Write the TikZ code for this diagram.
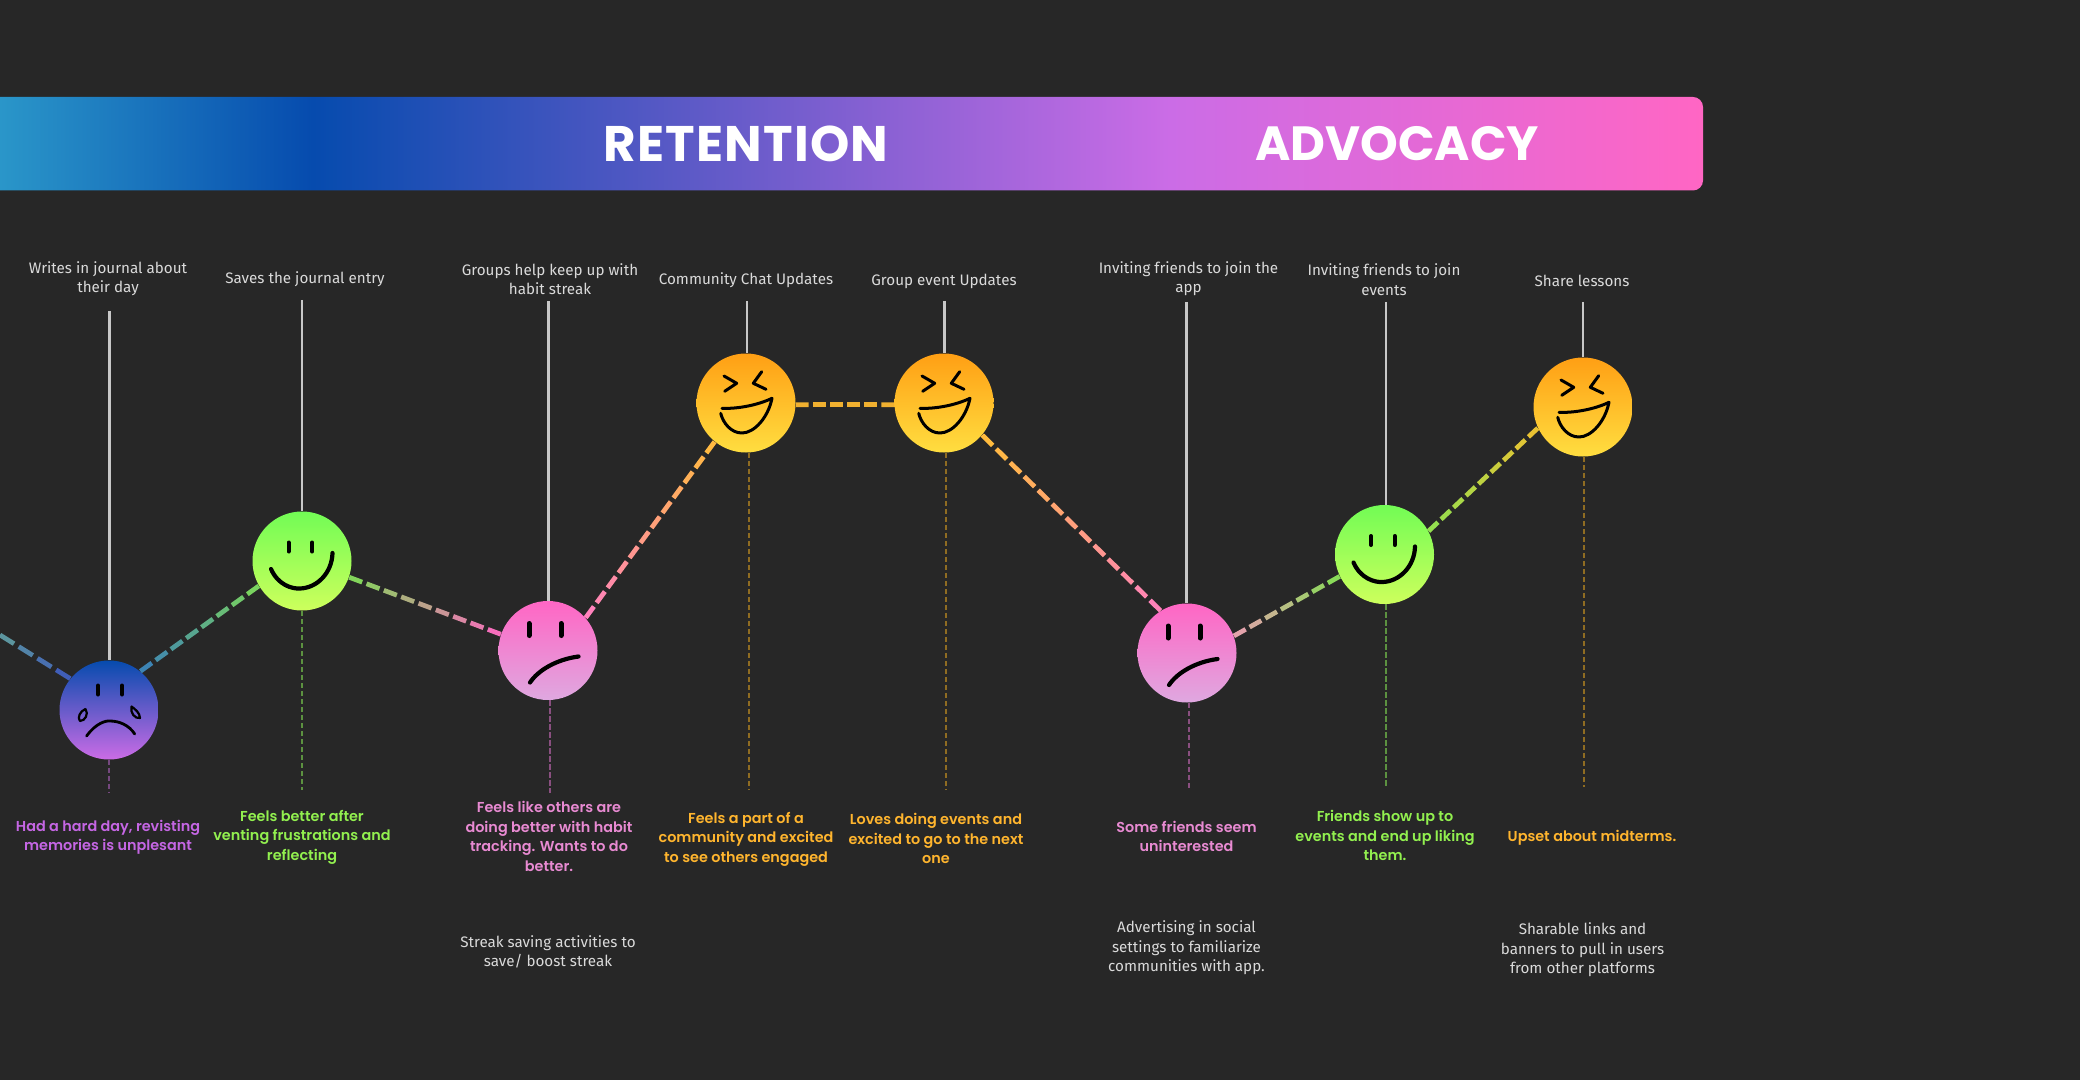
\documentclass[tikz,border=0pt]{standalone}
\usepackage{fontspec}
\usetikzlibrary{calc}
\newfontfamily\bannerfont{Poppins}
\newfontfamily\semifont{Poppins SemiBold}
\newfontfamily\bodyfont{Fira Sans}
\definecolor{bg}{HTML}{272727}
\definecolor{cPurple}{HTML}{C566E4}
\definecolor{cGreen}{HTML}{92F04F}
\definecolor{cPink}{HTML}{E88AD2}
\definecolor{cOrange}{HTML}{FFB52E}
\definecolor{cGrey}{HTML}{DADADA}
\definecolor{lineGrey}{HTML}{C8C8C8}
\definecolor{dPurple}{HTML}{75487F}
\definecolor{dGreen}{HTML}{5C9240}
\definecolor{dPink}{HTML}{8A4F80}
\definecolor{dOrange}{HTML}{8F6C22}
\definecolor{g1}{HTML}{2A96C9}
\definecolor{g2}{HTML}{064BAE}
\definecolor{g3}{HTML}{CB6CE6}
\definecolor{g4}{HTML}{FF66C4}
\pgfdeclarehorizontalshading{bannergrad}{100bp}{color(0bp)=(g1); color(25bp)=(g1); color(34.19bp)=(g2); color(59.35bp)=(g3); color(75bp)=(g4); color(100bp)=(g4)}
\tikzset{
  facebase/.style={circle,draw=none,minimum size=99*0.5pt,inner sep=0pt},
  sadface/.style={facebase,top color=g2,bottom color=g3},
  smileface/.style={facebase,top color=HappyTop,bottom color=HappyBot},
  mehface/.style={facebase,top color=g4,bottom color=MehBot},
  laughface/.style={facebase,top color=LaughTop,bottom color=LaughBot},
  toplabel/.style={text=cGrey,align=center,font=\bodyfont\fontsize{7.6}{9.7}\selectfont},
  feeling/.style={align=center,font=\semifont\fontsize{7.2}{9.7}\selectfont},
  idea/.style={text=cGrey,align=center,font=\bodyfont\fontsize{7.6}{9.7}\selectfont},
  banner/.style={text=white,font=\bannerfont\bfseries\fontsize{25}{27}\selectfont},
  stem/.style={draw=lineGrey,line width=1.1pt},
  drop/.style={line width=1pt,dash pattern=on 2.6pt off 1.4pt},
  feat/.style={draw=black,line cap=round,line join=round,fill=none},
}
\definecolor{HappyTop}{HTML}{72FC55}
\definecolor{HappyBot}{HTML}{CDFF5C}
\definecolor{MehBot}{HTML}{DFA8E0}
\definecolor{LaughTop}{HTML}{FF9F14}
\definecolor{LaughBot}{HTML}{FFDE40}
% gradient dashed connector: from, to, colour, colour, number of dashes
\newcommand{\gradconn}[5]{%
  \pgfmathtruncatemacro{\lastdash}{#5-1}%
  \foreach \i in {0,...,\lastdash}{%
    \pgfmathsetmacro{\ta}{\i/(#5-0.25)}%
    \pgfmathsetmacro{\tb}{(\i+0.75)/(#5-0.25)}%
    \pgfmathtruncatemacro{\mixp}{100*(\i+0.4)/#5}%
    \draw[line width=2.35pt,color=#4!\mixp!#3] ($(#1)!\ta!(#2)$) -- ($(#1)!\tb!(#2)$);
  }%
}
\newcommand{\eyes}[5]{% x left, x right, y, half height, line width
  \draw[feat,line width=#5] (#1,#3-#4) -- (#1,#3+#4);
  \draw[feat,line width=#5] (#2,#3-#4) -- (#2,#3+#4);
}
\newcommand{\smiledraw}[1]{\begin{scope}[shift={(#1)}]
  \eyes{-13.5}{10.2}{-14}{4.5}{2pt}
  \draw[feat,line width=2.1pt] (-31,8) .. controls (-24,24) and (-10,28) .. (-2,27.5) .. controls (15,27) and (30,12) .. (30.5,-8);
\end{scope}}
\newcommand{\meh}[1]{\begin{scope}[shift={(#1)}]
  \eyes{-19}{13}{-21}{6}{2.5pt}
  \draw[feat,line width=2.1pt] (-18,32) .. controls (-10,20) and (8,9) .. (30.5,6);
\end{scope}}
\newcommand{\cry}[1]{\begin{scope}[shift={(#1)}]
  \eyes{-11}{13}{-20}{4.5}{2pt}
  \draw[feat,line width=1.4pt] (-22.4,26) .. controls (-13,13) and (-3,10.5) .. (1,11) .. controls (10,11) and (20,15) .. (25.7,24);
  \draw[feat,line width=1.1pt] (-23.5,-1) .. controls (-20,4) and (-24,11) .. (-29,11) .. controls (-32,8) and (-29,1) .. (-23.5,-1);
  \draw[feat,line width=1.1pt] (22.5,-3.5) .. controls (26,-1) and (31,3) .. (31,8) .. controls (26,9) and (21,3) .. (22.5,-3.5);
\end{scope}}
\newcommand{\laugh}[1]{\begin{scope}[shift={(#1)}]
  \draw[feat,line width=1.5pt] (-22,-27) -- (-9.3,-19.7) -- (-21.3,-11.7);
  \draw[feat,line width=1.5pt] (15.7,-31.3) -- (7.3,-19.7) -- (20,-13.7);
  \draw[feat,line width=1.5pt] (-24,5.3) .. controls (-8,6) and (12,2) .. (26,-4.7) .. controls (22,15) and (8,30) .. (-4,30) .. controls (-15,30) and (-23,20) .. (-25.3,10.3);
\end{scope}}
\begin{document}
\begin{tikzpicture}[x=0.5pt,y=-0.5pt]
\useasboundingbox (0,0) rectangle (2080,1080);
\fill[bg] (0,0) rectangle (2080,1080);
% banner
\shade[shading=bannergrad] (0,97) {[rounded corners=5pt] -- (1703,97) -- (1703,190.5)} -- (0,190.5) -- cycle;
\node[banner] (ret) at (746,143.5) {\addfontfeatures{LetterSpace=2.5}RETENTION};
\node[banner] (adv) at (1397,143.5) {\fontsize{24}{27}\selectfont ADVOCACY};
% faces
\node[sadface]   (f1) at (109,710) {};
\node[smileface] (f2) at (302,561) {};
\node[mehface]   (f3) at (548,650.5) {};
\node[laughface] (f4) at (746,403) {};
\node[laughface] (f5) at (944,403) {};
\node[mehface]   (f6) at (1187,653) {};
\node[smileface] (f7) at (1384.5,554.5) {};
\node[laughface] (f8) at (1583,407) {};
% free ends
\coordinate (off) at (0,635);
\coordinate (t1) at (109.5,311); \coordinate (b1) at (109,793);
\coordinate (t2) at (302,300);   \coordinate (b2) at (302,790);
\coordinate (t3) at (548.5,301); \coordinate (b3) at (550,793);
\coordinate (t4) at (747,301);   \coordinate (b4) at (749,790);
\coordinate (t5) at (944.5,301); \coordinate (b5) at (946,790);
\coordinate (t6) at (1186.5,302);\coordinate (b6) at (1188.5,788);
\coordinate (t7) at (1386,302);  \coordinate (b7) at (1385.5,787);
\coordinate (t8) at (1583,302);  \coordinate (b8) at (1583.5,787);
% stems
\foreach \k in {1,...,8}{\draw[stem] (t\k) -- (t\k |- f\k.north);}
\draw[drop,draw=dPurple] (b1 |- f1.south) -- (b1);
\draw[drop,draw=dGreen]  (b2 |- f2.south) -- (b2);
\draw[drop,draw=dPink]   (b3 |- f3.south) -- (b3);
\draw[drop,draw=dOrange] (b4 |- f4.south) -- (b4);
\draw[drop,draw=dOrange] (b5 |- f5.south) -- (b5);
\draw[drop,draw=dPink]   (b6 |- f6.south) -- (b6);
\draw[drop,draw=dGreen]  (b7 |- f7.south) -- (b7);
\draw[drop,draw=dOrange] (b8 |- f8.south) -- (b8);
% gradient connectors
\definecolor{a0}{HTML}{5F9C9C}\definecolor{a1}{HTML}{3A52BE}
\definecolor{b0}{HTML}{3A80B8}\definecolor{b1c}{HTML}{7ED957}
\definecolor{c0}{HTML}{7ED957}\definecolor{c1}{HTML}{FF66C4}
\definecolor{d0}{HTML}{FF80C0}\definecolor{d1}{HTML}{FFBD3A}
\definecolor{e0}{HTML}{F0B030}
\definecolor{h0}{HTML}{E8A0B0}\definecolor{h1}{HTML}{80E050}
\definecolor{j0}{HTML}{90E050}\definecolor{j1}{HTML}{F0C030}
\gradconn{off}{f1.141}{a0}{a1}{4}
\gradconn{f1.51}{f2.210}{b0}{b1c}{8}
\gradconn{f2.-19}{f3.161}{c0}{c1}{9}
\gradconn{f3.41}{f4.231}{d0}{d1}{12}
\gradconn{f4.-2}{f5.182}{e0}{e0}{6}
\gradconn{f5.-40}{f6.122}{d1}{d0}{13}
\gradconn{f6.20}{f7.206}{h0}{h1}{7}
\gradconn{f7.28}{f8.205}{j0}{j1}{9}
% face features
\cry{f1}
\smiledraw{f2}
\meh{f3}
\laugh{f4}
\laugh{f5}
\meh{f6}
\smiledraw{f7}
\laugh{f8}
% top labels
\node[toplabel] (l1) at (108,278.5) {Writes in journal about\\their day};
\node[toplabel] (l2) at (305,279) {Saves the journal entry};
\node[toplabel] (l3) at (550,279) {Groups help keep up with\\habit streak};
\node[toplabel] (l4) at (746,280.5) {Community Chat Updates};
\node[toplabel] (l5) at (944,281) {Group event Updates};
\node[toplabel] (l6) at (1188.5,278.5) {Inviting friends to join the\\app};
\node[toplabel] (l7) at (1384,279.5) {Inviting friends to join\\events};
\node[toplabel] (l8) at (1582,280.5) {Share lessons};
% feelings
\node[feeling,text=cPurple] (m1) at (108,837.5) {Had a hard day, revisting\\memories is unplesant};
\node[feeling,text=cGreen]  (m2) at (302,837) {Feels better after\\venting frustrations and\\reflecting};
\node[feeling,text=cPink]   (m3) at (549,836.5) {Feels like others are\\doing better with habit\\tracking. Wants to do\\better.};
\node[feeling,text=cOrange] (m4) at (746,839) {Feels a part of a\\community and excited\\to see others engaged};
\node[feeling,text=cOrange] (m5) at (936,838.5) {Loves doing events and\\excited to go to the next\\one};
\node[feeling,text=cPink]   (m6) at (1186.5,836.5) {Some friends seem\\uninterested};
\node[feeling,text=cGreen]  (m7) at (1385,835.5) {Friends show up to\\events and end up liking\\them.};
\node[feeling,text=cOrange] (m8) at (1592,837.5) {Upset about midterms.};
% ideas
\node[idea] (n3) at (548,952) {Streak saving activities to\\save/ boost streak};
\node[idea] (n6) at (1186.5,948) {Advertising in social\\settings to familiarize\\communities with app.};
\node[idea] (n8) at (1582.5,950) {Sharable links and\\banners to pull in users\\from other platforms};
\end{tikzpicture}
\end{document}
